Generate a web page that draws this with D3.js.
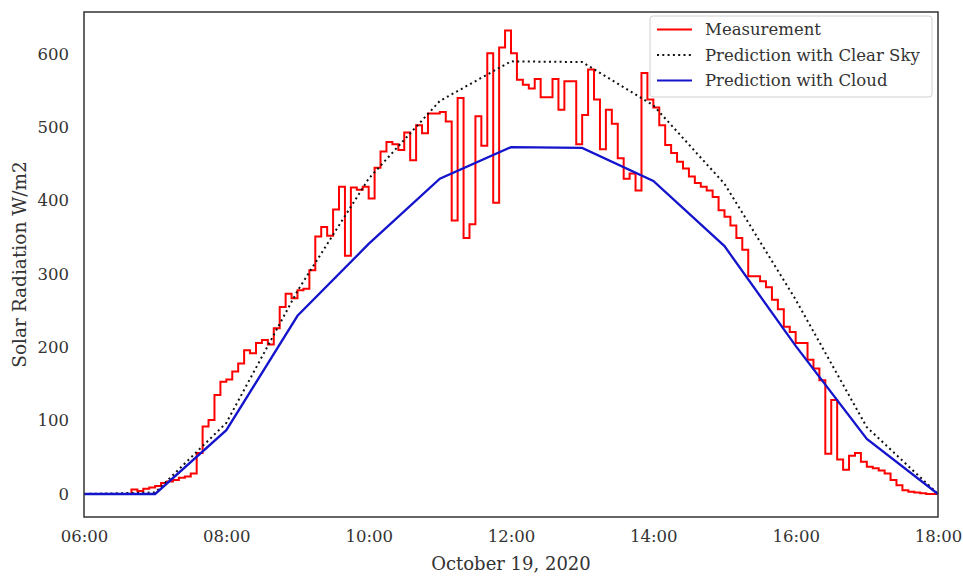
<!DOCTYPE html>
<html>
<head>
<meta charset="utf-8">
<script src="https://cdn.jsdelivr.net/npm/d3@7"></script>
<style>
  body { margin: 0; background: #fff; }
  text { font-family: "DejaVu Serif", serif; fill: #333; }
</style>
</head>
<body>
<div id="chart"></div>
<script>
// measurement, one value every 5 minutes from 06:00 to 18:00 (W/m2)
var measurement = [
  0,0,0,0,0,0,0,0,6,4,7,9,
  11,15,17,19,22,24,28,56,92,101,135,153,
  156,167,178,196,192,206,210,204,226,255,273,267,
  278,280,305,351,364,352,388,419,325,418,415,419,
  403,445,467,480,477,469,493,455,503,492,519,519,
  521,508,373,540,349,368,515,475,601,397,609,632,
  601,565,558,553,566,541,541,566,524,563,563,477,
  517,579,538,470,524,505,458,430,437,414,574,538,
  527,503,476,465,453,444,433,424,419,414,405,387,
  378,366,349,333,297,297,290,282,265,252,228,221,
  206,206,183,171,155,55,128,47,33,52,56,44,
  37,35,32,28,19,12,5,3,2,1,0,0,
  0
];
// hourly predictions
var predHours = ["06:00","07:00","08:00","09:00","10:00","11:00","12:00","13:00","14:00","15:00","16:00","17:00","18:00"];
var clearSky = [0, 2, 97, 277, 430, 536, 590, 589, 530, 423, 265, 91, 0];
var cloud = [0, 0, 87, 243, 341, 430, 473, 472, 427, 338, 202, 75, 0];
var xTicks = ["06:00","08:00","10:00","12:00","14:00","16:00","18:00"];
var yTicks = [0, 100, 200, 300, 400, 500, 600];

var W = 963, H = 577;
var margin = {top: 12, right: 25, bottom: 60, left: 84};
var width = W - margin.left - margin.right, height = H - margin.top - margin.bottom;

var parse = d3.timeParse("%Y-%m-%d %H:%M");
var day = "2020-10-19 ";
var t0 = parse(day + "06:00");

var svg = d3.select("#chart").append("svg").attr("width", W).attr("height", H);
var g = svg.append("g").attr("transform", `translate(${margin.left},${margin.top})`);

var x = d3.scaleTime().domain([t0, parse(day + "18:00")]).range([0, width]);
var y = d3.scaleLinear().domain([-31.4, 657.3]).range([height, 0]);

// axes (no tick marks, no domain line)
var xAxis = g.append("g").attr("transform", `translate(0,${height})`)
  .call(d3.axisBottom(x).tickValues(xTicks.map(d => parse(day + d))).tickFormat(d3.timeFormat("%H:%M")).tickSize(0).tickPadding(13));
xAxis.select(".domain").remove();
xAxis.selectAll("text").style("font-size", "16.5px").style("font-family", "DejaVu Serif").attr("fill", "#333");

var yAxis = g.append("g")
  .call(d3.axisLeft(y).tickValues(yTicks).tickSize(0).tickPadding(15));
yAxis.select(".domain").remove();
yAxis.selectAll("text").style("font-size", "16.5px").style("font-family", "DejaVu Serif").attr("fill", "#333");

// lines
var measPts = measurement.map((v, i) => [d3.timeMinute.offset(t0, i * 5), v]);
var stepLine = d3.line().x(d => x(d[0])).y(d => y(d[1])).curve(d3.curveStepAfter);
var line = d3.line().x(d => x(d[0])).y(d => y(d[1]));

g.append("path").datum(measPts).attr("fill", "none").attr("stroke", "#ff0000").attr("stroke-width", 2).attr("d", stepLine);

g.append("path").datum(predHours.map((h, i) => [parse(day + h), clearSky[i]]))
  .attr("fill", "none").attr("stroke", "#111").attr("stroke-width", 2).attr("stroke-dasharray", "2,3.3").attr("d", line);

g.append("path").datum(predHours.map((h, i) => [parse(day + h), cloud[i]]))
  .attr("fill", "none").attr("stroke", "#1414cc").attr("stroke-width", 2.3).attr("d", line);

// frame
g.append("rect").attr("width", width).attr("height", height).attr("fill", "none").attr("stroke", "#333").attr("stroke-width", 1.5);

// axis labels
svg.append("text").attr("x", margin.left + width / 2).attr("y", 570).attr("text-anchor", "middle").style("font-size", "18px").text("October 19, 2020");
svg.append("text").attr("transform", `translate(26,${margin.top + height / 2}) rotate(-90)`).attr("text-anchor", "middle").style("font-size", "18.5px").text("Solar Radiation W/m2");

// legend
var legend = svg.append("g").attr("transform", "translate(650,16)");
legend.append("rect").attr("width", 282).attr("height", 81).attr("rx", 3).attr("fill", "#fff").attr("fill-opacity", 0.9).attr("stroke", "#d0d0d0");
var items = [
  {name: "Measurement", color: "#ff0000", dash: null},
  {name: "Prediction with Clear Sky", color: "#111", dash: "2,3.3"},
  {name: "Prediction with Cloud", color: "#1414cc", dash: null}
];
items.forEach(function(d, i) {
  var yy = 13.5 + i * 25.5;
  legend.append("line").attr("x1", 7).attr("x2", 42).attr("y1", yy).attr("y2", yy)
    .attr("stroke", d.color).attr("stroke-width", 2).attr("stroke-dasharray", d.dash);
  legend.append("text").attr("x", 55).attr("y", yy + 5.5).style("font-size", "16.5px").text(d.name);
});
</script>
</body>
</html>
